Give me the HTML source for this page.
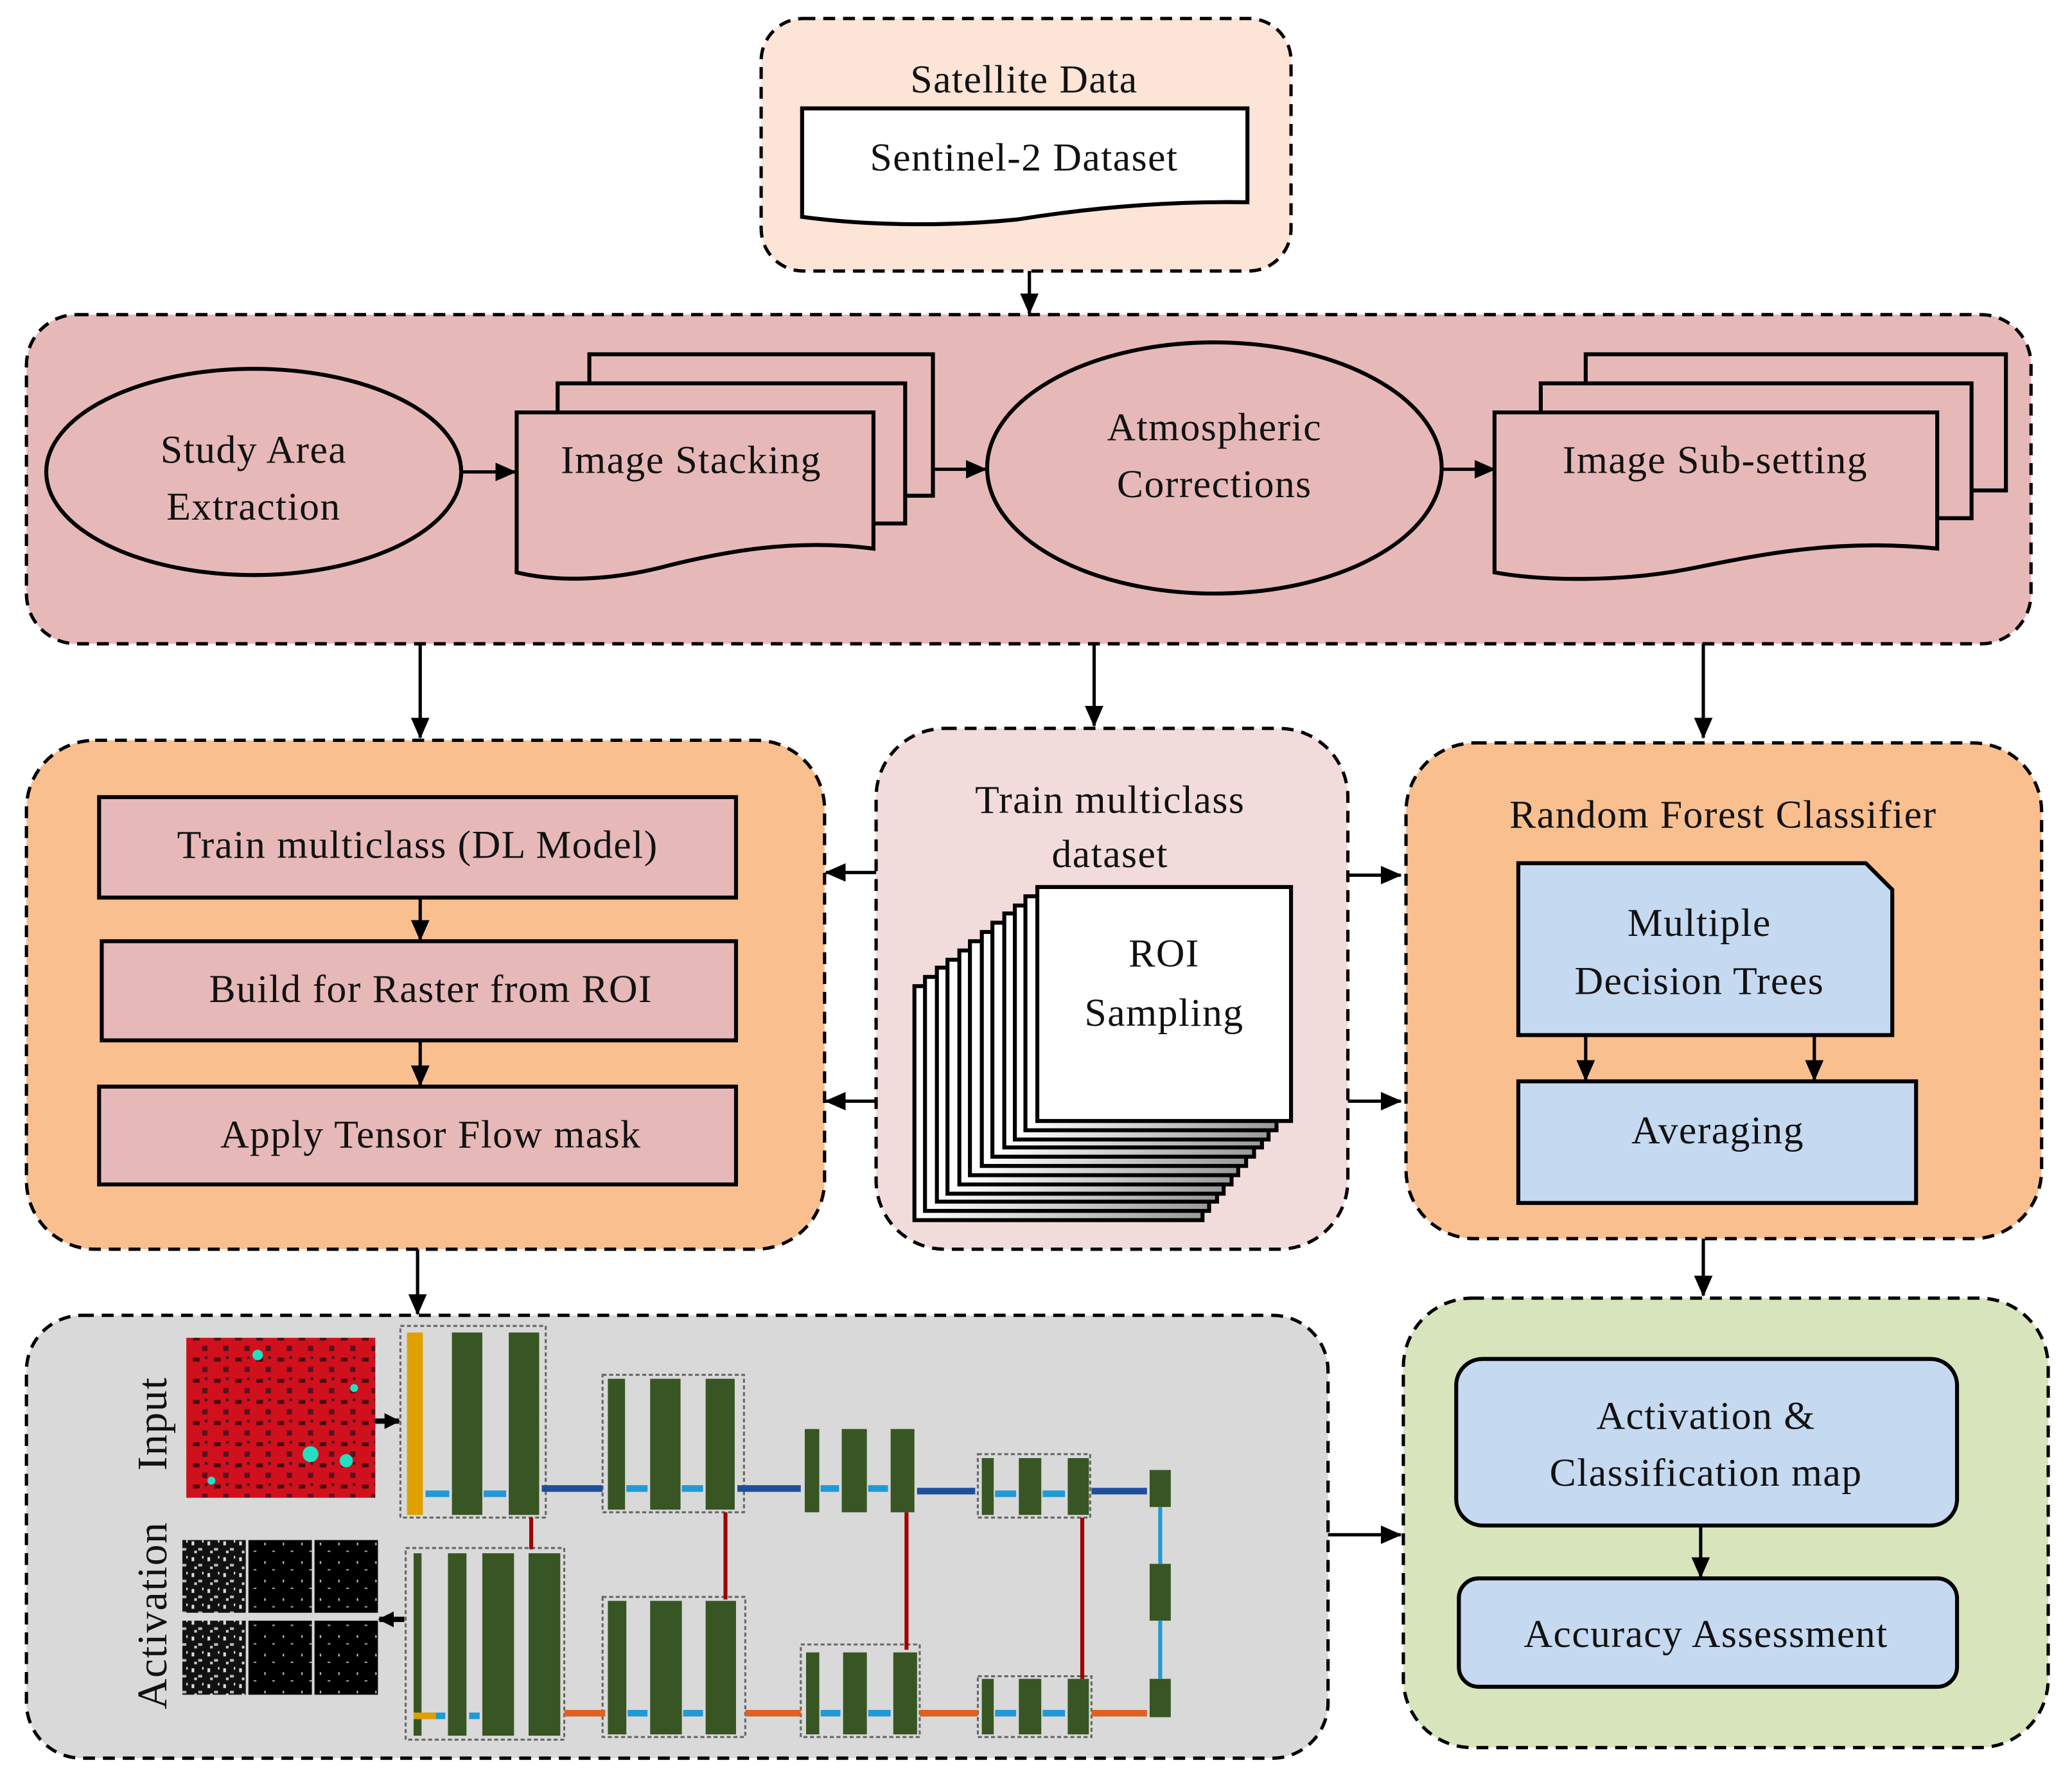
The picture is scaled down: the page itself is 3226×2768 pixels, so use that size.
<!DOCTYPE html>
<html><head><meta charset="utf-8"><style>
html,body{margin:0;padding:0;background:#fff;}
svg{display:block;}
text{font-family:"Liberation Serif",serif;fill:#111;font-size:30px;letter-spacing:0.7px;}
</style></head><body>
<svg width="3226" height="2768" viewBox="0 0 1568 1345" preserveAspectRatio="none" xmlns="http://www.w3.org/2000/svg">
<defs>
<marker id="ah" markerWidth="16" markerHeight="14" refX="15" refY="7" orient="auto" markerUnits="userSpaceOnUse" viewBox="0 0 16 14"><path d="M0,0 L16,7 L0,14 Z" fill="#000"/></marker>
<marker id="ah2" markerWidth="12" markerHeight="12" refX="11" refY="6" orient="auto" markerUnits="userSpaceOnUse" viewBox="0 0 12 12"><path d="M0,0 L12,6 L0,12 Z" fill="#000"/></marker>
<linearGradient id="pg" x1="0" x2="1"><stop offset="0" stop-color="#fff"/><stop offset="1" stop-color="#999"/></linearGradient>
<pattern id="noise" width="12" height="12" patternUnits="userSpaceOnUse"><rect width="12" height="12" fill="#111"/><rect x="1" y="2" width="2" height="3" fill="#ddd"/><rect x="6" y="7" width="3" height="2" fill="#bbb"/><rect x="9" y="1" width="1" height="2" fill="#eee"/><rect x="3" y="9" width="2" height="2" fill="#ccc"/></pattern>
<pattern id="noise2" width="14" height="14" patternUnits="userSpaceOnUse"><rect width="14" height="14" fill="#000"/><rect x="4" y="5" width="1" height="2" fill="#ccc"/><rect x="10" y="11" width="2" height="1" fill="#aaa"/></pattern>
<pattern id="red" width="16" height="16" patternUnits="userSpaceOnUse"><rect width="16" height="16" fill="#d0101c"/><rect x="2" y="3" width="5" height="3" fill="#4a0a12"/><rect x="9" y="10" width="4" height="4" fill="#5a1020"/><rect x="11" y="2" width="2" height="2" fill="#2a2030"/></pattern>
</defs>
<g stroke="#000" stroke-width="2.5" stroke-dasharray="9,6">
<rect x="576" y="14" width="401" height="191" rx="32" fill="#fce4d6"/>
<rect x="20" y="238" width="1517" height="249" rx="38" fill="#e6b9b8"/>
<rect x="20" y="560" width="604" height="385" rx="52" fill="#f9bf8f"/>
<rect x="663" y="551" width="357" height="394" rx="52" fill="#f2dcdb"/>
<rect x="1064" y="562" width="481" height="375" rx="52" fill="#f9bf8f"/>
<rect x="1062" y="982" width="488" height="340" rx="52" fill="#d8e4bc"/>
<rect x="20" y="995" width="985" height="335" rx="42" fill="#d9d9d9"/>
</g>
<text x="775" y="70" text-anchor="middle">Satellite Data</text>
<path d="M607,82 H944 V153 C880,152 820,158 770,166 C710,172 650,170 607,164 Z" fill="#fff" stroke="#000" stroke-width="3"/>
<text x="775" y="129" text-anchor="middle">Sentinel-2 Dataset</text>
<g stroke="#000" stroke-width="2.5" fill="none" marker-end="url(#ah)">
<line x1="779" y1="205" x2="779" y2="237"/>
<line x1="349" y1="357" x2="390" y2="357"/>
<line x1="706" y1="355" x2="746" y2="355"/>
<line x1="1090" y1="355" x2="1131" y2="355"/>
<line x1="318" y1="487" x2="318" y2="558"/>
<line x1="828" y1="487" x2="828" y2="549"/>
<line x1="1289" y1="487" x2="1289" y2="558"/>
<line x1="318" y1="679" x2="318" y2="711"/>
<line x1="318" y1="787" x2="318" y2="821"/>
<line x1="663" y1="660" x2="625" y2="660"/>
<line x1="663" y1="833" x2="625" y2="833"/>
<line x1="1020" y1="662" x2="1060" y2="662"/>
<line x1="1020" y1="833" x2="1060" y2="833"/>
<line x1="1200" y1="783" x2="1200" y2="817"/>
<line x1="1373" y1="783" x2="1373" y2="817"/>
<line x1="1289" y1="937" x2="1289" y2="980"/>
<line x1="1287" y1="1154" x2="1287" y2="1193"/>
<line x1="1005" y1="1161" x2="1060" y2="1161"/>
<line x1="316" y1="945" x2="316" y2="994"/>
</g>
<ellipse cx="192" cy="357" rx="157" ry="78" fill="#e6b9b8" stroke="#000" stroke-width="3"/>
<text x="192" y="350" text-anchor="middle">Study Area</text>
<text x="192" y="393" text-anchor="middle">Extraction</text>
<g fill="#e6b9b8" stroke="#000" stroke-width="3">
<rect x="446" y="268" width="260" height="107"/>
<rect x="422" y="290" width="263" height="106"/>
<path d="M391,312 H661 V415 C600,407 545,418 505,428 C460,440 420,440 391,433 Z"/>
<rect x="1200" y="268" width="318" height="103"/>
<rect x="1166" y="290" width="326" height="102"/>
<path d="M1131,312 H1466 V415 C1390,407 1330,420 1280,430 C1230,440 1170,440 1131,433 Z"/>
</g>
<text x="523" y="358" text-anchor="middle">Image Stacking</text>
<ellipse cx="919" cy="354" rx="172" ry="95" fill="#e6b9b8" stroke="#000" stroke-width="3"/>
<text x="919" y="333" text-anchor="middle">Atmospheric</text>
<text x="919" y="376" text-anchor="middle">Corrections</text>
<text x="1298" y="358" text-anchor="middle">Image Sub-setting</text>
<g fill="#e6b9b8" stroke="#000" stroke-width="3">
<rect x="75" y="603" width="482" height="76"/>
<rect x="77" y="712" width="480" height="75"/>
<rect x="75" y="822" width="482" height="74"/>
</g>
<text x="316" y="649" text-anchor="middle">Train multiclass (DL Model)</text>
<text x="326" y="758" text-anchor="middle">Build for Raster from ROI</text>
<text x="326" y="868" text-anchor="middle">Apply Tensor Flow mask</text>
<text x="840" y="615" text-anchor="middle">Train multiclass</text>
<text x="840" y="656" text-anchor="middle">dataset</text>
<g stroke="#000" stroke-width="3" fill="url(#pg)">
<rect x="692" y="746" width="218" height="177"/>
<rect x="700" y="739" width="215" height="177"/>
<rect x="709" y="732" width="212" height="177"/>
<rect x="717" y="726" width="209" height="177"/>
<rect x="726" y="719" width="206" height="177"/>
<rect x="734" y="712" width="203" height="177"/>
<rect x="743" y="705" width="200" height="177"/>
<rect x="751" y="698" width="198" height="177"/>
<rect x="760" y="691" width="195" height="177"/>
<rect x="768" y="685" width="192" height="177"/>
<rect x="776" y="678" width="190" height="177"/>
<rect x="785" y="671" width="192" height="177" fill="#fff"/>
</g>
<text x="881" y="731" text-anchor="middle">ROI</text>
<text x="881" y="776" text-anchor="middle">Sampling</text>
<text x="1304" y="626" text-anchor="middle">Random Forest Classifier</text>
<path d="M1149,653 H1412 L1432,673 V783 H1149 Z" fill="#c5d9f1" stroke="#000" stroke-width="3"/>
<text x="1286" y="708" text-anchor="middle">Multiple</text>
<text x="1286" y="752" text-anchor="middle">Decision Trees</text>
<rect x="1149" y="818" width="301" height="92" fill="#c5d9f1" stroke="#000" stroke-width="3"/>
<text x="1300" y="865" text-anchor="middle">Averaging</text>
<rect x="1102" y="1028" width="379" height="126" rx="20" fill="#c5d9f1" stroke="#000" stroke-width="3"/>
<text x="1291" y="1081" text-anchor="middle">Activation &amp;</text>
<text x="1291" y="1124" text-anchor="middle">Classification map</text>
<rect x="1104" y="1194" width="377" height="82" rx="15" fill="#c5d9f1" stroke="#000" stroke-width="3"/>
<text x="1291" y="1246" text-anchor="middle">Accuracy Assessment</text>
<text transform="translate(126,1077) rotate(-90)" text-anchor="middle" style="font-size:32px">Input</text>
<text transform="translate(126,1222) rotate(-90)" text-anchor="middle" style="font-size:32px">Activation</text>
<rect x="141" y="1012" width="143" height="121" fill="url(#red)"/>
<g fill="#22e0c0"><circle cx="195" cy="1025" r="4"/><circle cx="235" cy="1100" r="6"/><circle cx="262" cy="1105" r="5"/><circle cx="268" cy="1050" r="3"/><circle cx="160" cy="1120" r="3"/></g>
<g><rect x="138" y="1165" width="48" height="55" fill="url(#noise)"/><rect x="188" y="1165" width="48" height="55" fill="url(#noise2)"/><rect x="238" y="1165" width="48" height="55" fill="url(#noise2)"/><rect x="138" y="1226" width="48" height="56" fill="url(#noise)"/><rect x="188" y="1226" width="48" height="56" fill="url(#noise2)"/><rect x="238" y="1226" width="48" height="56" fill="url(#noise2)"/></g>
<path d="M284,1075 H302" stroke="#000" stroke-width="4" marker-end="url(#ah2)"/>
<path d="M306,1225 H287" stroke="#000" stroke-width="4" marker-end="url(#ah2)"/>
<g fill="none" stroke="#666" stroke-width="1.5" stroke-dasharray="3,2">
<rect x="303" y="1003" width="110" height="145"/><rect x="456" y="1040" width="107" height="104"/><rect x="740" y="1100" width="85" height="48"/>
<rect x="307" y="1171" width="120" height="145"/><rect x="456" y="1208" width="108" height="106"/><rect x="606" y="1244" width="90" height="70"/><rect x="740" y="1268" width="86" height="46"/>
</g>
<rect x="308" y="1008" width="12" height="138" fill="#e0a000"/>
<g fill="#375623">
<rect x="342" y="1008" width="23" height="138"/><rect x="385" y="1008" width="23" height="138"/>
<rect x="460" y="1043" width="13" height="99"/><rect x="492" y="1043" width="23" height="99"/><rect x="534" y="1043" width="22" height="99"/>
<rect x="609" y="1081" width="11" height="63"/><rect x="637" y="1081" width="19" height="63"/><rect x="674" y="1081" width="18" height="63"/>
<rect x="743" y="1103" width="9" height="43"/><rect x="771" y="1103" width="17" height="43"/><rect x="808" y="1103" width="16" height="43"/>
<rect x="870" y="1112" width="16" height="28"/><rect x="870" y="1183" width="16" height="43"/><rect x="870" y="1270" width="16" height="29"/>
<rect x="313" y="1175" width="6" height="138"/><rect x="339" y="1175" width="14" height="138"/><rect x="365" y="1175" width="24" height="138"/><rect x="400" y="1175" width="24" height="138"/>
<rect x="460" y="1211" width="14" height="101"/><rect x="492" y="1211" width="24" height="101"/><rect x="534" y="1211" width="23" height="101"/>
<rect x="610" y="1250" width="10" height="62"/><rect x="638" y="1250" width="18" height="62"/><rect x="676" y="1250" width="18" height="62"/>
<rect x="743" y="1270" width="9" height="42"/><rect x="771" y="1270" width="17" height="42"/><rect x="808" y="1270" width="16" height="42"/>
</g>
<g stroke-width="5">
<g stroke="#1f9ad6"><line x1="322" y1="1130" x2="340" y2="1130"/><line x1="366" y1="1130" x2="383" y2="1130"/><line x1="474" y1="1126" x2="490" y2="1126"/><line x1="516" y1="1126" x2="532" y2="1126"/><line x1="621" y1="1126" x2="635" y2="1126"/><line x1="657" y1="1126" x2="672" y2="1126"/><line x1="753" y1="1130" x2="769" y2="1130"/><line x1="789" y1="1130" x2="806" y2="1130"/>
<line x1="322" y1="1298" x2="337" y2="1298"/><line x1="355" y1="1298" x2="363" y2="1298"/><line x1="475" y1="1296" x2="490" y2="1296"/><line x1="517" y1="1296" x2="532" y2="1296"/><line x1="621" y1="1296" x2="636" y2="1296"/><line x1="657" y1="1296" x2="674" y2="1296"/><line x1="753" y1="1296" x2="769" y2="1296"/><line x1="789" y1="1296" x2="806" y2="1296"/></g>
<g stroke="#1f4e9a"><line x1="410" y1="1126" x2="456" y2="1126"/><line x1="558" y1="1126" x2="606" y2="1126"/><line x1="694" y1="1128" x2="738" y2="1128"/><line x1="826" y1="1128" x2="868" y2="1128"/></g>
<g stroke="#e06020"><line x1="427" y1="1296" x2="458" y2="1296"/><line x1="564" y1="1296" x2="606" y2="1296"/><line x1="696" y1="1296" x2="740" y2="1296"/><line x1="826" y1="1296" x2="868" y2="1296"/></g>
<line x1="313" y1="1298" x2="330" y2="1298" stroke="#e0a000"/>
</g>
<g stroke="#a00000" stroke-width="3"><line x1="402" y1="1148" x2="402" y2="1172"/><line x1="549" y1="1144" x2="549" y2="1210"/><line x1="686" y1="1144" x2="686" y2="1248"/><line x1="819" y1="1148" x2="819" y2="1270"/></g>
<g stroke="#1f9ad6" stroke-width="3"><line x1="878" y1="1140" x2="878" y2="1183"/><line x1="878" y1="1226" x2="878" y2="1270"/></g>
</svg>
</body></html>
